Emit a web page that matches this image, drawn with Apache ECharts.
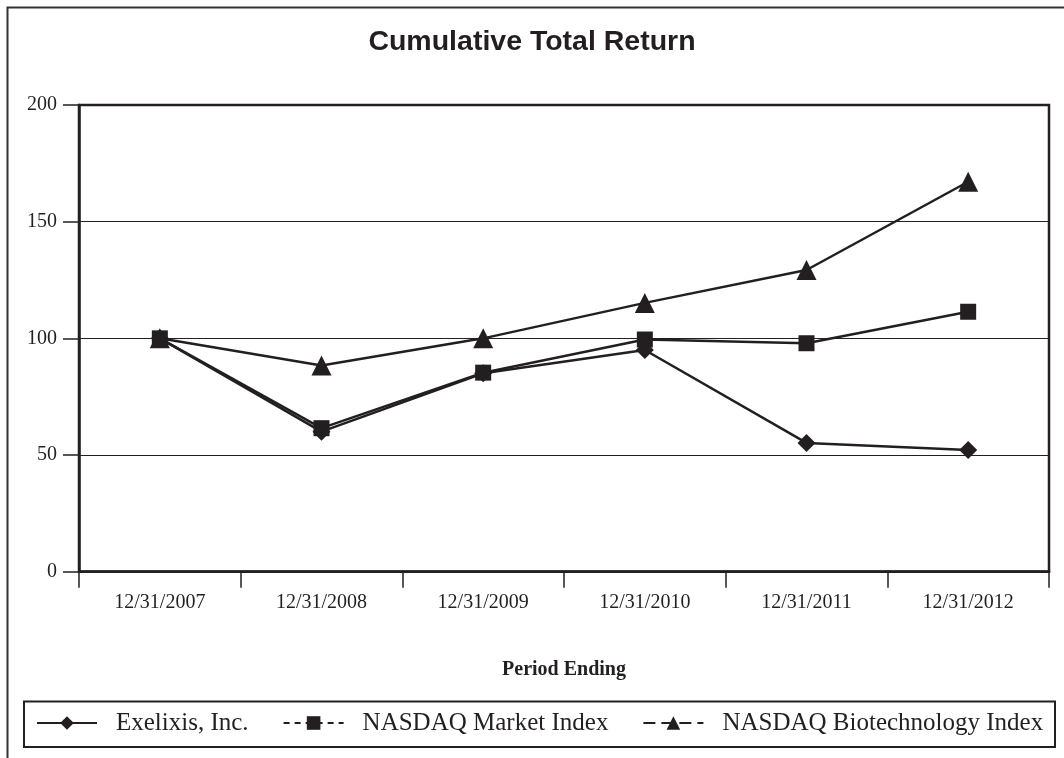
<!DOCTYPE html>
<html>
<head>
<meta charset="utf-8">
<script src="https://cdn.jsdelivr.net/npm/echarts@6/dist/echarts.min.js"></script>
<style>
html,body{margin:0;padding:0;background:#fff;}
#chart{width:1064px;height:758px;}
</style>
</head>
<body>
<div id="chart"></div>
<script>
const categories = ['12/31/2007','12/31/2008','12/31/2009','12/31/2010','12/31/2011','12/31/2012'];
const exelixis = [100, 60, 85, 95, 55.2, 52.2];
const nasdaqMarket = [100, 61.5, 85.3, 99.5, 97.9, 111.4];
const nasdaqBiotech = [100, 88.4, 100, 115.2, 129.3, 167.1];
const seriesNames = ['Exelixis, Inc.', 'NASDAQ Market Index', 'NASDAQ Biotechnology Index'];
const yTicks = { min: 0, max: 200, interval: 50 };

const INK = '#231f20';
const serif = '"Liberation Serif", "Times New Roman", serif';
const sans = '"Liberation Sans", Arial, sans-serif';

const chart = echarts.init(document.getElementById('chart'), null, { renderer: 'canvas' });

function lineSeries(name, data, symbol, size) {
  return {
    name: name,
    type: 'line',
    data: data,
    symbol: symbol,
    symbolSize: size,
    showSymbol: true,
    lineStyle: { color: INK, width: 2.5 },
    itemStyle: { color: INK, borderWidth: 0 },
    emphasis: { disabled: true },
    animation: false
  };
}

chart.setOption({
  animation: false,
  backgroundColor: '#ffffff',
  title: {
    text: 'Cumulative Total Return',
    left: 'center',
    top: 28,
    padding: 0,
    textStyle: { fontFamily: sans, fontWeight: 'bold', fontSize: 28.5, color: INK }
  },
  grid: {
    left: 79, right: 15, top: 105, bottom: 186.3,
    show: true, borderColor: INK, borderWidth: 2.5, backgroundColor: 'transparent'
  },
  legend: {
    data: [
      { name: seriesNames[0] },
      { name: seriesNames[1], lineStyle: { type: [6, 5] } },
      { name: seriesNames[2], lineStyle: { type: [12, 6] } }
    ],
    left: 36,
    top: 710.5,
    padding: 0,
    itemWidth: 60,
    itemHeight: 17,
    itemGap: 34,
    selectedMode: false,
    textStyle: { fontFamily: serif, fontSize: 25, color: INK, padding: [0, 0, 0, 14] }
  },
  xAxis: {
    type: 'category',
    data: categories,
    boundaryGap: true,
    name: 'Period Ending',
    nameLocation: 'middle',
    nameGap: 88,
    nameTextStyle: { fontFamily: serif, fontWeight: 'bold', fontSize: 20, color: INK },
    axisLine: { show: true, lineStyle: { color: INK, width: 2.5 } },
    axisTick: { show: true, length: 16, interval: 0, lineStyle: { color: INK, width: 1.5 } },
    axisLabel: { fontFamily: serif, fontSize: 20, color: INK, margin: 21, interval: 0 },
    splitLine: { show: false }
  },
  yAxis: {
    type: 'value',
    min: yTicks.min,
    max: yTicks.max,
    interval: yTicks.interval,
    axisLine: { show: true, lineStyle: { color: INK, width: 2.5 } },
    axisTick: { show: true, length: 16, lineStyle: { color: INK, width: 1.5 } },
    axisLabel: { fontFamily: serif, fontSize: 20, color: INK, margin: 22 },
    splitLine: { show: true, lineStyle: { color: INK, width: 1.2 } }
  },
  graphic: [
    {
      type: 'polyline',
      shape: { points: [[7.5, 758], [7.5, 7.5], [1064, 7.5]] },
      style: { stroke: '#333', lineWidth: 2, fill: null },
      silent: true
    },
    {
      type: 'rect',
      shape: { x: 24, y: 701.5, width: 1031, height: 45.5 },
      style: { stroke: INK, lineWidth: 2, fill: null },
      silent: true
    }
  ],
  series: [
    lineSeries(seriesNames[0], exelixis, 'diamond', 18),
    lineSeries(seriesNames[1], nasdaqMarket, 'rect', 16),
    lineSeries(seriesNames[2], nasdaqBiotech, 'triangle', 20)
  ]
});
</script>
</body>
</html>
